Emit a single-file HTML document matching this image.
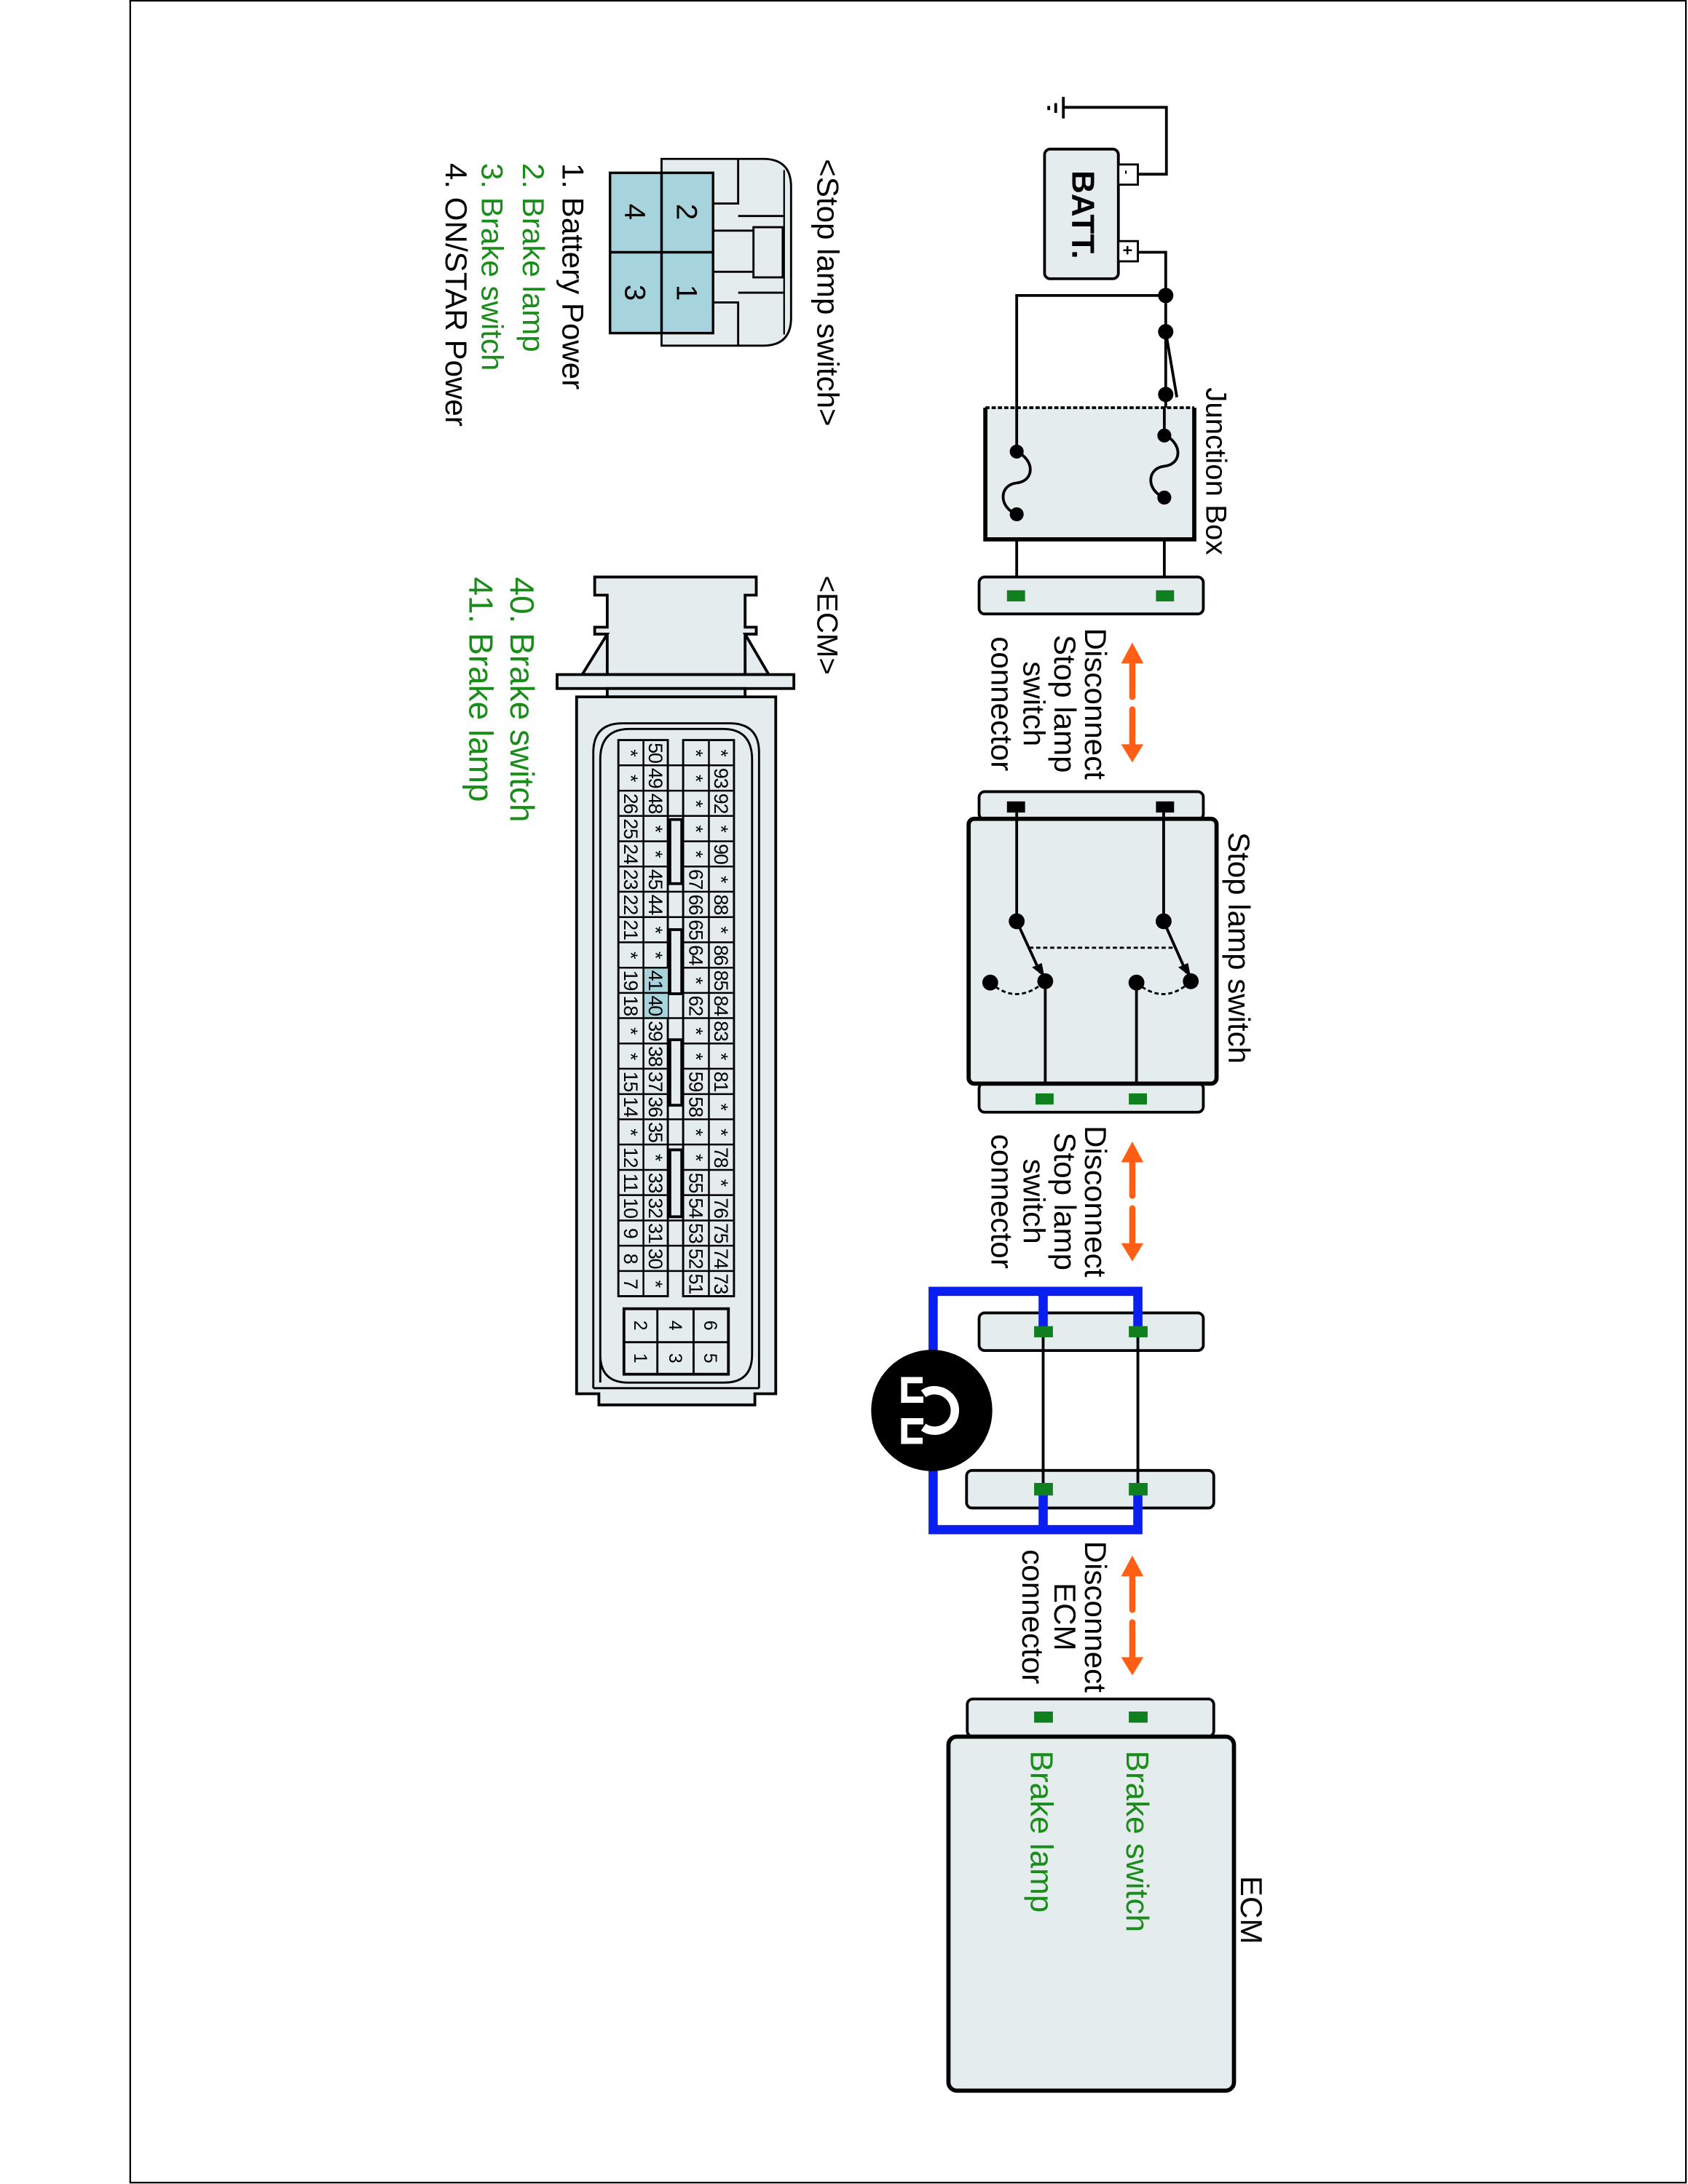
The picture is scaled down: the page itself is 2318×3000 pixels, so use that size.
<!DOCTYPE html>
<html><head><meta charset="utf-8"><style>
html,body{margin:0;padding:0;background:#fff;}
svg{display:block;}
text{font-family:"Liberation Sans",Arial,sans-serif;}
</style></head><body>
<svg width="2318" height="3000" viewBox="0 0 1212 1567" preserveAspectRatio="none" xmlns="http://www.w3.org/2000/svg">
<rect x="93.5" y="0.5" width="1117" height="1565.5" fill="#fff" stroke="#000" stroke-width="1.2"/>

<!-- Ground and battery -->
<g stroke="#000" stroke-width="2" fill="none">
<path d="M817,125 H837.5 V77 H763.5"/>
<line x1="763.5" y1="69.5" x2="763.5" y2="85"/>
<line x1="758" y1="74" x2="758" y2="81"/>
<line x1="753" y1="76" x2="753" y2="79"/>
<path d="M817,181 H837 V283"/>
<path d="M837,212 H730 V324"/>
<line x1="837" y1="238" x2="845" y2="285"/>
<line x1="837" y1="283" x2="837" y2="312"/>
<line x1="836" y1="357" x2="836" y2="424"/>
<line x1="730" y1="369" x2="730" y2="424"/>
</g>
<rect x="750" y="107" width="53" height="93" rx="4" fill="#e4ecee" stroke="#000" stroke-width="2"/>
<rect x="803" y="118" width="14" height="14.5" fill="#fff" stroke="#000" stroke-width="1.5"/>
<rect x="803" y="173" width="14" height="14.5" fill="#fff" stroke="#000" stroke-width="1.5"/>
<text transform="translate(806,122) rotate(90)" font-size="9" font-weight="bold">-</text>
<text transform="translate(805.5,176) rotate(90)" font-size="12" font-weight="bold">+</text>
<text transform="translate(770,154) rotate(90)" font-size="23" font-weight="bold" text-anchor="middle">BATT.</text>
<g fill="#000"><circle cx="837" cy="212" r="5.5"/><circle cx="837" cy="238" r="5.5"/><circle cx="837" cy="283" r="5.5"/></g>

<!-- Junction box -->
<rect x="707.5" y="292.5" width="150" height="94.5" fill="#e4ecee"/>
<path d="M707.5,292.5 V387 H857.5 V292.5" fill="none" stroke="#000" stroke-width="3"/>
<line x1="707.5" y1="292.5" x2="857.5" y2="292.5" stroke="#000" stroke-width="2" stroke-dasharray="3,1.5"/>
<g stroke="#000" stroke-width="2" fill="none">
<line x1="730" y1="292" x2="730" y2="324"/>
<line x1="836" y1="292" x2="836" y2="312"/>
<path d="M836,312 C849,318 849,333 836,334.5 C823,336 823,352 836,357"/>
<path d="M730,324 C743,330 743,345 730,346.5 C717,348 717,364 730,369"/>
</g>
<g fill="#000"><circle cx="836" cy="312.5" r="5"/><circle cx="836" cy="357" r="5"/><circle cx="730" cy="324" r="5"/><circle cx="730" cy="369" r="5"/></g>
<text transform="translate(866,278) rotate(90)" font-size="21">Junction Box</text>
<rect x="703" y="414" width="161" height="26.5" rx="4" fill="#e4ecee" stroke="#000" stroke-width="2"/>
<rect x="723" y="423.5" width="13" height="8" fill="#0f7f1f"/>
<rect x="830" y="423.5" width="13" height="8" fill="#0f7f1f"/>

<!-- Arrows -->
<g fill="#ff5e14" stroke="#ff5e14">
<polygon points="813,461 821,476 805,476" stroke="none"/>
<line x1="813" y1="474" x2="813" y2="500" stroke-width="4.4" stroke-linecap="round"/>
<line x1="813" y1="509" x2="813" y2="536" stroke-width="4.4" stroke-linecap="round"/>
<polygon points="813,547 821,534 805,534" stroke="none"/>

<polygon points="813,819 821,834 805,834" stroke="none"/>
<line x1="813" y1="832" x2="813" y2="858" stroke-width="4.4" stroke-linecap="round"/>
<line x1="813" y1="867" x2="813" y2="894" stroke-width="4.4" stroke-linecap="round"/>
<polygon points="813,905 821,892 805,892" stroke="none"/>

<polygon points="813,1116 821,1131 805,1131" stroke="none"/>
<line x1="813" y1="1129" x2="813" y2="1155" stroke-width="4.4" stroke-linecap="round"/>
<line x1="813" y1="1164" x2="813" y2="1191" stroke-width="4.4" stroke-linecap="round"/>
<polygon points="813,1202 821,1189 805,1189" stroke="none"/>
</g>
<g font-size="22" text-anchor="middle">
<text transform="translate(779,505) rotate(90)">Disconnect</text>
<text transform="translate(757,505) rotate(90)">Stop lamp</text>
<text transform="translate(735,505) rotate(90)">switch</text>
<text transform="translate(712,505) rotate(90)">connector</text>
<text transform="translate(779,862) rotate(90)">Disconnect</text>
<text transform="translate(757,862) rotate(90)">Stop lamp</text>
<text transform="translate(735,862) rotate(90)">switch</text>
<text transform="translate(712,862) rotate(90)">connector</text>
<text transform="translate(779,1160) rotate(90)">Disconnect</text>
<text transform="translate(757,1160) rotate(90)">ECM</text>
<text transform="translate(734,1160) rotate(90)">connector</text>
</g>

<!-- Stop lamp switch -->
<rect x="703" y="568" width="161" height="20" rx="4" fill="#e4ecee" stroke="#000" stroke-width="2"/>
<rect x="703" y="777" width="161" height="21" rx="4" fill="#e4ecee" stroke="#000" stroke-width="2"/>
<rect x="695.5" y="587.5" width="178" height="190" rx="4" fill="#e4ecee" stroke="#000" stroke-width="3"/>
<rect x="723" y="575" width="13" height="8" fill="#000"/>
<rect x="830" y="575" width="13" height="8" fill="#000"/>
<rect x="743.5" y="784.5" width="13" height="8" fill="#0f7f1f"/>
<rect x="810.5" y="784.5" width="13" height="8" fill="#0f7f1f"/>
<g stroke="#000" stroke-width="2" fill="none">
<line x1="730" y1="583" x2="730" y2="661"/>
<line x1="835.5" y1="583" x2="835.5" y2="661"/>
<line x1="730" y1="661" x2="747" y2="698"/>
<line x1="835.5" y1="661" x2="852" y2="698"/>
<line x1="750.5" y1="704" x2="750.5" y2="778"/>
<line x1="816" y1="705" x2="816" y2="778"/>
<line x1="739" y1="680" x2="843" y2="680" stroke-width="1.5" stroke-dasharray="3,2"/>
<path d="M711,705 Q730,722 750.5,704" stroke-width="1.5" stroke-dasharray="3,2"/>
<path d="M816,705 Q836,722 855,704" stroke-width="1.5" stroke-dasharray="3,2"/>
</g>
<g fill="#000">
<polygon points="750,701 741,694 748,691"/>
<polygon points="855,701 846,694 853,691"/>
<circle cx="730" cy="661" r="5.7"/><circle cx="835.5" cy="661" r="5.7"/>
<circle cx="711" cy="705" r="5.7"/><circle cx="750.5" cy="704" r="5.7"/>
<circle cx="816" cy="705" r="5.7"/><circle cx="855" cy="704" r="5.7"/>
</g>
<text transform="translate(882,597) rotate(90)" font-size="22">Stop lamp switch</text>

<!-- Blue jumper -->
<rect x="703" y="942" width="161" height="27" rx="4" fill="#e4ecee" stroke="#000" stroke-width="2"/>
<rect x="694" y="1055" width="177.5" height="27" rx="4" fill="#e4ecee" stroke="#000" stroke-width="2"/>
<g stroke="#000" stroke-width="2">
<line x1="749" y1="959" x2="749" y2="1064"/>
<line x1="817" y1="959" x2="817" y2="1064"/>
</g>
<g stroke="#0a1ef0" stroke-width="6.6" fill="none" stroke-linejoin="miter">
<path d="M817,952 V926.5 H670 V1097.5 H817 V1068"/>
<line x1="749" y1="926.5" x2="749" y2="952"/>
<line x1="749" y1="1068" x2="749" y2="1097.5"/>
</g>
<rect x="742.5" y="951.5" width="13.5" height="8" fill="#0f7f1f"/>
<rect x="810.5" y="951.5" width="13.5" height="8" fill="#0f7f1f"/>
<rect x="742.5" y="1064" width="13.5" height="9" fill="#0f7f1f"/>
<rect x="810.5" y="1064" width="13.5" height="9" fill="#0f7f1f"/>
<circle cx="669" cy="1012" r="43.5" fill="#000"/>
<g fill="none" stroke="#fff" stroke-width="6">
<path d="M663,1000 A14.5 14.5 0 1 1 663,1024"/>
</g>
<g fill="#fff">
<rect x="647" y="988" width="4.5" height="18.5"/>
<rect x="647" y="988" width="15.5" height="4.5"/>
<rect x="647" y="1002" width="16" height="4.5"/>
<rect x="647" y="1017.5" width="4.5" height="18.5"/>
<rect x="647" y="1031.5" width="15.5" height="4.5"/>
<rect x="647" y="1017.5" width="16" height="4.5"/>
</g>

<!-- ECM box -->
<rect x="694.5" y="1219" width="177" height="27" rx="4" fill="#e4ecee" stroke="#000" stroke-width="2"/>
<rect x="681" y="1246" width="205" height="254" rx="6" fill="#e4ecee" stroke="#000" stroke-width="3"/>
<rect x="742.5" y="1228" width="13.5" height="8" fill="#0f7f1f"/>
<rect x="810.5" y="1228" width="13.5" height="8" fill="#0f7f1f"/>
<text transform="translate(891,1346) rotate(90)" font-size="22">ECM</text>
<text transform="translate(809,1256) rotate(90)" font-size="23" fill="#1a8c1a">Brake switch</text>
<text transform="translate(740,1256) rotate(90)" font-size="23" fill="#1a8c1a">Brake lamp</text>

<!-- Stop lamp switch connector (left) -->
<text transform="translate(587,114) rotate(90)" font-size="22">&lt;Stop lamp switch&gt;</text>
<path d="M475,114 H548 Q568,114 568,134 V228 Q568,248 548,248 H475 Z" fill="#e4ecee" stroke="#000" stroke-width="1.5"/>
<path d="M563,122 V240" stroke="#000" stroke-width="1.2" fill="none"/>
<g stroke="#000" stroke-width="1.5" fill="none">
<path d="M512,146 H530 V114"/>
<path d="M512,217 H530 V248"/>
<path d="M512,165.5 H541"/>
<path d="M512,195 H541"/>
<path d="M530,155 H563"/>
<path d="M530,210 H563"/>
<rect x="541" y="163" width="21" height="36"/>
</g>
<rect x="438" y="124" width="74" height="115" fill="#a7d3dc" stroke="#000" stroke-width="1.8"/>
<line x1="475" y1="124" x2="475" y2="239" stroke="#000" stroke-width="1.8"/>
<line x1="438" y1="181" x2="512" y2="181" stroke="#000" stroke-width="1.8"/>
<g font-size="21" text-anchor="middle">
<text transform="translate(486,152) rotate(90)">2</text>
<text transform="translate(486,210) rotate(90)">1</text>
<text transform="translate(449,152) rotate(90)">4</text>
<text transform="translate(449,210) rotate(90)">3</text>
</g>
<g font-size="22">
<text transform="translate(404,117) rotate(90)">1. Battery Power</text>
<text transform="translate(375.5,117) rotate(90)" fill="#1a8c1a">2. Brake lamp</text>
<text transform="translate(346,117) rotate(90)" fill="#1a8c1a">3. Brake switch</text>
<text transform="translate(320,117) rotate(90)">4. ON/STAR Power</text>
</g>

<!-- ECM connector (left) -->
<text transform="translate(587,413) rotate(90)" font-size="21">&lt;ECM&gt;</text>
<text transform="translate(366.5,414) rotate(90)" font-size="24" fill="#1a8c1a">40. Brake switch</text>
<text transform="translate(337,414) rotate(90)" font-size="24" fill="#1a8c1a">41. Brake lamp</text>
<g stroke="#000" stroke-width="2" fill="#e4ecee">
<path d="M427,414 H543 V427 H535 V450 H543 V455 H535 L552,484 H418 L436,455 H427 V450 H436 V427 H427 Z"/>
<path d="M436,455 V494 M535,455 V494" fill="none"/>
<rect x="400" y="484" width="170" height="10"/>
<rect x="436" y="494" width="99" height="6"/>
<path d="M414,500 H557 V1000 H542 V1008 H430 V1000 H414 Z"/>
<path d="M426,996 V540 Q426,519 447,519 H524 Q545,519 545,540 V996" fill="none" stroke-width="1.5"/>
<path d="M426,996 H545" fill="none" stroke-width="1.5"/>
<path d="M431,992 V545 Q431,523 452,523 H519 Q540,523 540,545 V972 Q540,992 520,992 H451 Q431,992 431,972" fill="none" stroke-width="1.5"/>
</g>
<!-- grid -->
<g fill="#e4ecee" stroke="#000" stroke-width="1.5">
<rect x="444" y="531" width="35.5" height="399"/>
<rect x="490.5" y="531" width="36.5" height="399"/>
</g>
<rect x="462" y="694.2" width="17.5" height="36.3" fill="#a7d3dc"/>
<g stroke="#000" stroke-width="1.3">
<line x1="462" y1="531" x2="462" y2="930"/>
<line x1="509" y1="531" x2="509" y2="930"/>
<line x1="444" y1="549.1" x2="527" y2="549.1"/>
<line x1="444" y1="567.3" x2="527" y2="567.3"/>
<line x1="444" y1="585.4" x2="527" y2="585.4"/>
<line x1="444" y1="603.6" x2="527" y2="603.6"/>
<line x1="444" y1="621.7" x2="527" y2="621.7"/>
<line x1="444" y1="639.8" x2="527" y2="639.8"/>
<line x1="444" y1="658.0" x2="527" y2="658.0"/>
<line x1="444" y1="676.1" x2="527" y2="676.1"/>
<line x1="444" y1="694.3" x2="527" y2="694.3"/>
<line x1="444" y1="712.4" x2="527" y2="712.4"/>
<line x1="444" y1="730.5" x2="527" y2="730.5"/>
<line x1="444" y1="748.7" x2="527" y2="748.7"/>
<line x1="444" y1="766.8" x2="527" y2="766.8"/>
<line x1="444" y1="785.0" x2="527" y2="785.0"/>
<line x1="444" y1="803.1" x2="527" y2="803.1"/>
<line x1="444" y1="821.2" x2="527" y2="821.2"/>
<line x1="444" y1="839.4" x2="527" y2="839.4"/>
<line x1="444" y1="857.5" x2="527" y2="857.5"/>
<line x1="444" y1="875.7" x2="527" y2="875.7"/>
<line x1="444" y1="893.8" x2="527" y2="893.8"/>
<line x1="444" y1="911.9" x2="527" y2="911.9"/>
</g>
<g fill="#e4ecee" stroke="#000" stroke-width="2">
<rect x="481" y="588" width="8.5" height="46"/>
<rect x="481" y="667" width="8.5" height="46"/>
<rect x="481" y="746" width="8.5" height="47"/>
<rect x="481" y="825" width="8.5" height="48"/>
</g>
<g font-size="14" text-anchor="middle" letter-spacing="-0.6">
<!-- col A -->
<text transform="translate(448,540.1) rotate(90)">*</text>
<text transform="translate(448,558.2) rotate(90)">*</text>
<text transform="translate(448,576.4) rotate(90)">26</text>
<text transform="translate(448,594.5) rotate(90)">25</text>
<text transform="translate(448,612.6) rotate(90)">24</text>
<text transform="translate(448,630.8) rotate(90)">23</text>
<text transform="translate(448,648.9) rotate(90)">22</text>
<text transform="translate(448,667.0) rotate(90)">21</text>
<text transform="translate(448,685.2) rotate(90)">*</text>
<text transform="translate(448,703.3) rotate(90)">19</text>
<text transform="translate(448,721.5) rotate(90)">18</text>
<text transform="translate(448,739.6) rotate(90)">*</text>
<text transform="translate(448,757.8) rotate(90)">*</text>
<text transform="translate(448,775.9) rotate(90)">15</text>
<text transform="translate(448,794.0) rotate(90)">14</text>
<text transform="translate(448,812.2) rotate(90)">*</text>
<text transform="translate(448,830.3) rotate(90)">12</text>
<text transform="translate(448,848.5) rotate(90)">11</text>
<text transform="translate(448,866.6) rotate(90)">10</text>
<text transform="translate(448,884.7) rotate(90)">9</text>
<text transform="translate(448,902.9) rotate(90)">8</text>
<text transform="translate(448,921.0) rotate(90)">7</text>
<!-- col B -->
<text transform="translate(466,540.1) rotate(90)">50</text>
<text transform="translate(466,558.2) rotate(90)">49</text>
<text transform="translate(466,576.4) rotate(90)">48</text>
<text transform="translate(466,594.5) rotate(90)">*</text>
<text transform="translate(466,612.6) rotate(90)">*</text>
<text transform="translate(466,630.8) rotate(90)">45</text>
<text transform="translate(466,648.9) rotate(90)">44</text>
<text transform="translate(466,667.0) rotate(90)">*</text>
<text transform="translate(466,685.2) rotate(90)">*</text>
<text transform="translate(466,703.3) rotate(90)">41</text>
<text transform="translate(466,721.5) rotate(90)">40</text>
<text transform="translate(466,739.6) rotate(90)">39</text>
<text transform="translate(466,757.8) rotate(90)">38</text>
<text transform="translate(466,775.9) rotate(90)">37</text>
<text transform="translate(466,794.0) rotate(90)">36</text>
<text transform="translate(466,812.2) rotate(90)">35</text>
<text transform="translate(466,830.3) rotate(90)">*</text>
<text transform="translate(466,848.5) rotate(90)">33</text>
<text transform="translate(466,866.6) rotate(90)">32</text>
<text transform="translate(466,884.7) rotate(90)">31</text>
<text transform="translate(466,902.9) rotate(90)">30</text>
<text transform="translate(466,921.0) rotate(90)">*</text>
<!-- col C -->
<text transform="translate(495,540.1) rotate(90)">*</text>
<text transform="translate(495,558.2) rotate(90)">*</text>
<text transform="translate(495,576.4) rotate(90)">*</text>
<text transform="translate(495,594.5) rotate(90)">*</text>
<text transform="translate(495,612.6) rotate(90)">*</text>
<text transform="translate(495,630.8) rotate(90)">67</text>
<text transform="translate(495,648.9) rotate(90)">66</text>
<text transform="translate(495,667.0) rotate(90)">65</text>
<text transform="translate(495,685.2) rotate(90)">64</text>
<text transform="translate(495,703.3) rotate(90)">*</text>
<text transform="translate(495,721.5) rotate(90)">62</text>
<text transform="translate(495,739.6) rotate(90)">*</text>
<text transform="translate(495,757.8) rotate(90)">*</text>
<text transform="translate(495,775.9) rotate(90)">59</text>
<text transform="translate(495,794.0) rotate(90)">58</text>
<text transform="translate(495,812.2) rotate(90)">*</text>
<text transform="translate(495,830.3) rotate(90)">*</text>
<text transform="translate(495,848.5) rotate(90)">55</text>
<text transform="translate(495,866.6) rotate(90)">54</text>
<text transform="translate(495,884.7) rotate(90)">53</text>
<text transform="translate(495,902.9) rotate(90)">52</text>
<text transform="translate(495,921.0) rotate(90)">51</text>
<!-- col D -->
<text transform="translate(513,540.1) rotate(90)">*</text>
<text transform="translate(513,558.2) rotate(90)">93</text>
<text transform="translate(513,576.4) rotate(90)">92</text>
<text transform="translate(513,594.5) rotate(90)">*</text>
<text transform="translate(513,612.6) rotate(90)">90</text>
<text transform="translate(513,630.8) rotate(90)">*</text>
<text transform="translate(513,648.9) rotate(90)">88</text>
<text transform="translate(513,667.0) rotate(90)">*</text>
<text transform="translate(513,685.2) rotate(90)">86</text>
<text transform="translate(513,703.3) rotate(90)">85</text>
<text transform="translate(513,721.5) rotate(90)">84</text>
<text transform="translate(513,739.6) rotate(90)">83</text>
<text transform="translate(513,757.8) rotate(90)">*</text>
<text transform="translate(513,775.9) rotate(90)">81</text>
<text transform="translate(513,794.0) rotate(90)">*</text>
<text transform="translate(513,812.2) rotate(90)">*</text>
<text transform="translate(513,830.3) rotate(90)">78</text>
<text transform="translate(513,848.5) rotate(90)">*</text>
<text transform="translate(513,866.6) rotate(90)">76</text>
<text transform="translate(513,884.7) rotate(90)">75</text>
<text transform="translate(513,902.9) rotate(90)">74</text>
<text transform="translate(513,921.0) rotate(90)">73</text>
</g>
<!-- small 6-pin block -->
<rect x="448" y="939" width="75" height="47" fill="#e4ecee" stroke="#000" stroke-width="2"/>
<g stroke="#000" stroke-width="1.5">
<line x1="472" y1="939" x2="472" y2="986"/>
<line x1="498" y1="939" x2="498" y2="986"/>
<line x1="448" y1="963" x2="523" y2="963"/>
</g>
<g font-size="13" text-anchor="middle">
<text transform="translate(505.5,951) rotate(90)">6</text>
<text transform="translate(505.5,974.5) rotate(90)">5</text>
<text transform="translate(480.5,951) rotate(90)">4</text>
<text transform="translate(480.5,974.5) rotate(90)">3</text>
<text transform="translate(455.5,951) rotate(90)">2</text>
<text transform="translate(455.5,974.5) rotate(90)">1</text>
</g>
</svg>
</body></html>
